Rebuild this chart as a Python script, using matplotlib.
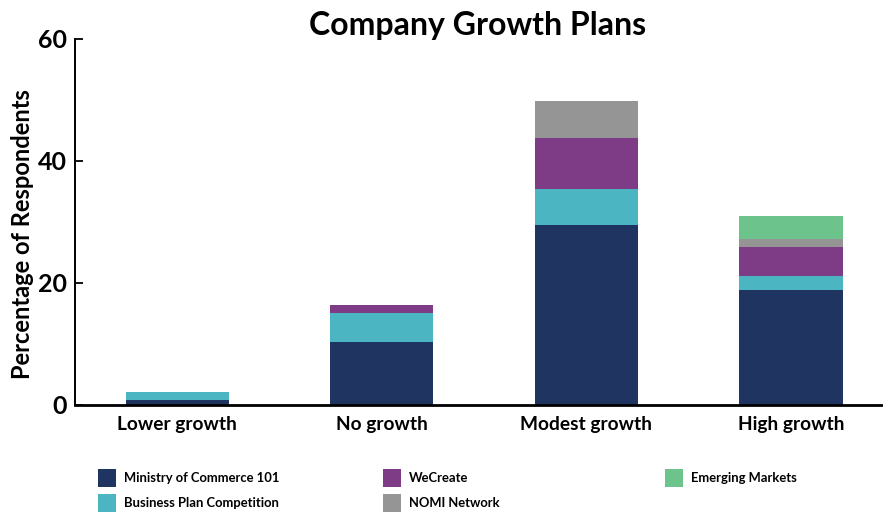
import matplotlib
matplotlib.use("Agg")
import matplotlib.pyplot as plt
from matplotlib.patches import Rectangle
import numpy as np

plt.rcParams['font.family'] = ['Lato', 'DejaVu Sans']
W = 'bold'
plt.rcParams['font.weight'] = W

categories = ["Lower growth", "No growth", "Modest growth", "High growth"]
series_names = ["Ministry of Commerce 101", "Business Plan Competition",
                "WeCreate", "NOMI Network", "Emerging Markets"]
ministry = [0.8, 10.2, 29.4, 18.8]
business_plan = [1.3, 4.9, 5.9, 2.3]
wecreate = [0.0, 1.3, 8.4, 4.7]
nomi = [0.0, 0.0, 6.2, 1.4]
emerging = [0.0, 0.0, 0.0, 3.7]
series_values = [ministry, business_plan, wecreate, nomi, emerging]
colors = ["#1F3461", "#4BB5C1", "#7F3C86", "#959595", "#6CC38C"]
y_ticks = [0, 20, 40, 60]

fig = plt.figure(figsize=(8.83, 5.12), dpi=100)
ax = fig.add_axes([75 / 883, 1 - 404.5 / 512, 1 - 75 / 883, (404.5 - 39) / 512])

x = np.arange(len(categories))
bottom = np.zeros(len(categories))
for vals, col in zip(series_values, colors):
    vals = np.array(vals)
    ax.bar(x, vals, width=0.505, bottom=bottom, color=col, linewidth=0)
    bottom += vals

ax.set_xlim(-0.5, 3.45)
ax.set_ylim(0, 60)
ax.set_yticks(y_ticks)
ax.set_yticklabels([str(t) for t in y_ticks], fontsize=18, fontweight=W)
ax.set_xticks(x)
ax.set_xticklabels(categories, fontsize=13.8, fontweight=W)
ax.tick_params(axis='x', length=0, pad=8)
ax.tick_params(axis='y', direction='in', length=6, width=1.3, pad=6)
for s in ('top', 'right'):
    ax.spines[s].set_visible(False)
ax.spines['left'].set_linewidth(1.4)
ax.spines['bottom'].set_linewidth(2.0)

ax.set_ylabel("Percentage of Respondents", fontsize=17, fontweight=W)
ax.yaxis.set_label_coords(-41 / 808, (404.5 - 234) / 365.5)
fig.text(478 / 883, 1 - 25 / 512, "Company Growth Plans", ha='center', va='center',
         fontsize=23, fontweight=W)

# legend laid out in three columns of two rows
col_x = [98, 383, 665]
row_y = [478, 503]
for i, (name, col) in enumerate(zip(series_names, colors)):
    c, r = i // 2, i % 2
    x0, yc = col_x[c], row_y[r]
    fig.add_artist(Rectangle((x0 / 883, 1 - (yc + 9) / 512), 18 / 883, 18 / 512,
                             transform=fig.transFigure, color=col, linewidth=0))
    fig.text((x0 + 26) / 883, 1 - yc / 512, name, ha='left', va='center',
             fontsize=9.4, fontweight=W)

fig.savefig("out.png", dpi=100)
